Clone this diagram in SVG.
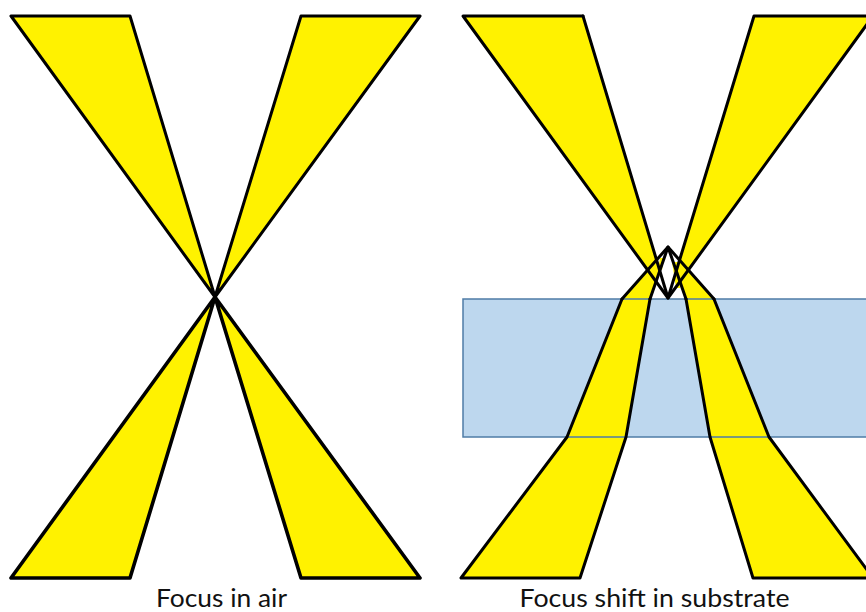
<svg xmlns="http://www.w3.org/2000/svg" width="866" height="612" viewBox="0 0 866 612">
<style>
.b{fill:#fff200;stroke:#000;stroke-width:3;stroke-linejoin:round}
.k{stroke-width:3.600}
.f{fill:#fff200}
.l{fill:none;stroke:#000;stroke-width:3;stroke-linejoin:round;stroke-linecap:round}
.t{font-family:Lato,"Open Sans",sans-serif;font-size:25px;fill:#111;text-anchor:middle}
</style>
<rect width="866" height="612" fill="#fff"/>
<g id="focus-in-air">
<polygon class="b" points="11,16 130,16 215,297"/>
<polygon class="b" points="420,16 301,16 215,297"/>
<polygon class="b k" points="11,578 130,578 215,297"/>
<polygon class="b k" points="420,578 301,578 215,297"/>
<text class="t" x="221.500" y="606.500" textLength="131" lengthAdjust="spacingAndGlyphs">Focus in air</text>
</g>
<g id="substrate">
<rect x="463" y="299" width="410" height="138" fill="#bdd7ee"/>
</g>
<g id="focus-shift">
<polygon class="f" points="463,16 583,16 660,270 650,299 622,299 648,270"/>
<polygon class="f" points="873,16 754,16 677,270 686,299 714,299 689,270"/>
<polygon class="f" points="622,299 650,299 626,437 567,437"/>
<polygon class="f" points="714,299 686,299 710,437 769,437"/>
<polygon class="f" points="567,437 626,437 580,578 461,578"/>
<polygon class="f" points="710,437 769,437 873,578 753,578"/>
<polygon class="f" points="660,258 664,258 662,270 658,270"/>
<polygon class="f" points="672,262 678,262 680,288 676,288"/>
</g>
<g id="connectors">
<rect x="463" y="299" width="410" height="138" fill="none" stroke="#4f7ca6" stroke-width="1.500"/>
<path class="l" d="M583,16H463L668,298L754,16H873"/>
<path class="l" d="M583,16L668,298L873,16"/>
<path class="l" d="M622,299L668,247L714,299"/>
<path class="l" d="M650,299L668,247L686,299"/>
<path class="l" d="M622,299L567,437L461,578H580L626,437L650,299"/>
<path class="l" d="M714,299L769,437L873,578H753L710,437L686,299"/>
</g>
<text class="t" x="654.500" y="606.500" textLength="270" lengthAdjust="spacingAndGlyphs">Focus shift in substrate</text>
</svg>
